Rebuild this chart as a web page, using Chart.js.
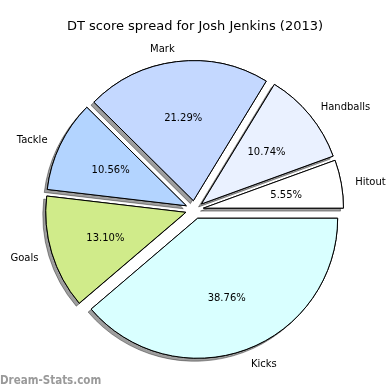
<!DOCTYPE html>
<html>
<head>
<meta charset="utf-8">
<script src="https://cdn.jsdelivr.net/npm/chart.js@4"></script>
<style>
  html, body { margin: 0; padding: 0; background: #ffffff; }
  #wrap { width: 390px; height: 390px; }
</style>
</head>
<body>
<div id="wrap"><canvas id="c" width="390" height="390"></canvas></div>
<script>
// Data (matplotlib order: counter-clockwise starting at 3 o'clock)
const categories = ['Hitout', 'Handballs', 'Mark', 'Tackle', 'Goals', 'Kicks'];
const percents = [5.55, 10.74, 21.29, 10.56, 13.10, 38.76];
const sliceColors = ['#ffffff', '#eaf1ff', '#c4d8ff', '#b3d4ff', '#d0eb8a', '#d9ffff'];
const titleText = 'DT score spread for Josh Jenkins (2013)';
const watermarkText = 'Dream-Stats.com';

// Chart.js draws clockwise, so reverse to mimic counter-clockwise layout
const labelsCW = categories.slice().reverse();
const valuesCW = percents.slice().reverse();
const colorsCW = sliceColors.slice().reverse();

const EXPLODE = 0.065;   // fraction of radius
const FONT = 'DejaVu Sans';
const TEXT_DY = 1.5;

function drawShifted(ctx, arc) {
  const mid = (arc.startAngle + arc.endAngle) / 2;
  const d = arc.outerRadius * EXPLODE;
  ctx.save();
  ctx.translate(Math.cos(mid) * d, Math.sin(mid) * d);
  arc.draw(ctx);
  ctx.restore();
}

const piePlugin = {
  id: 'piePlugin',
  beforeDatasetsDraw(chart) {
    const ctx = chart.ctx;
    const arcs = chart.getDatasetMeta(0).data;
    // shadows
    ctx.save();
    ctx.shadowColor = 'rgba(0,0,0,0.38)';
    ctx.shadowOffsetX = -3;
    ctx.shadowOffsetY = 3;
    ctx.shadowBlur = 0;
    arcs.forEach(a => drawShifted(ctx, a));
    ctx.restore();
    // wedges
    arcs.forEach(a => drawShifted(ctx, a));
    // labels
    ctx.save();
    ctx.fillStyle = '#000000';
    ctx.font = '10px "' + FONT + '"';
    ctx.textBaseline = 'middle';
    arcs.forEach((a, i) => {
      const mid = (a.startAngle + a.endAngle) / 2;
      const r = a.outerRadius;
      const cx = a.x + Math.cos(mid) * r * EXPLODE;
      const cy = a.y + Math.sin(mid) * r * EXPLODE;
      const lx = cx + Math.cos(mid) * r * 1.1;
      const ly = cy + Math.sin(mid) * r * 1.1;
      ctx.textAlign = Math.cos(mid) > 0 ? 'left' : 'right';
      ctx.fillText(labelsCW[i], lx, ly + TEXT_DY);
      const px = cx + Math.cos(mid) * r * 0.6;
      const py = cy + Math.sin(mid) * r * 0.6;
      ctx.textAlign = 'center';
      ctx.fillText(valuesCW[i].toFixed(2) + '%', px, py + TEXT_DY);
    });
    ctx.restore();
    return false;
  },
  afterDraw(chart) {
    const ctx = chart.ctx;
    ctx.save();
    ctx.fillStyle = '#000000';
    ctx.font = '13px "' + FONT + '"';
    ctx.textAlign = 'center';
    ctx.textBaseline = 'alphabetic';
    ctx.fillText(titleText, 195, 30);
    ctx.fillStyle = '#9a9a9a';
    ctx.font = 'bold 11.5px "DejaVu Sans Condensed", "DejaVu Sans"';
    ctx.textAlign = 'left';
    ctx.textBaseline = 'alphabetic';
    ctx.fillText(watermarkText, 0, 384);
    ctx.restore();
  }
};

new Chart(document.getElementById('c'), {
  type: 'pie',
  data: {
    labels: labelsCW,
    datasets: [{
      data: valuesCW,
      backgroundColor: colorsCW,
      borderColor: '#000000',
      borderWidth: 1,
      borderJoinStyle: 'miter',
      offset: 0
    }]
  },
  options: {
    responsive: false,
    animation: false,
    rotation: 90,
    radius: 140,
    layout: { padding: { top: 29.4, bottom: 0, left: 0, right: 1 } },
    plugins: {
      legend: { display: false },
      tooltip: { enabled: false },
      title: { display: false }
    }
  },
  plugins: [piePlugin]
});
</script>
</body>
</html>
